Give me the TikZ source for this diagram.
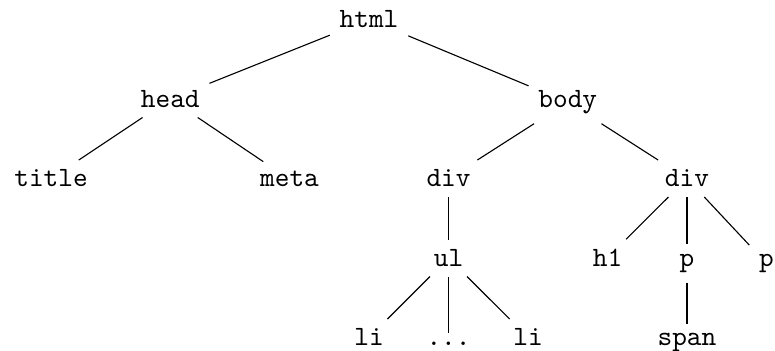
\documentclass[tikz,border=0pt]{standalone}
\begin{document}
\begin{tikzpicture}[every node/.style={font=\ttfamily, anchor=base}]
      \useasboundingbox (-4.642,0.352) rectangle (5.107,-4.063);
      \node (html) at (0,0) {html};
      \node (head) at (-2.5,-1) {head};
      \node (body) at (2.5,-1) {body};
      \node (title) at (-4,-2) {title};
      \node (meta) at (-1,-2) {meta};
      \node (div1) at (1,-2) {div};
      \node (div2) at (4,-2) {div};
      \node (ul) at (1,-3) {ul};
      \node (h1) at (3,-3) {h1};
      \node (p1) at (4,-3) {p};
      \node (p2) at (5,-3) {p};
      \node (li1) at (0,-4) {li};
      \node (dots) at (1,-4) {...};
      \node (li2) at (2,-4) {li};
      \node (span) at (4,-4) {span};
      \draw (html) -- (head);
      \draw (html) -- (body);
      \draw (head) -- (title);
      \draw (head) -- (meta);
      \draw (body) -- (div1);
      \draw (body) -- (div2);
      \draw (div1) -- (ul);
      \draw (ul) -- (li1);
      \draw (ul) -- (dots);
      \draw (ul) -- (li2);
      \draw (div2) -- (h1);
      \draw (div2) -- (p1);
      \draw (div2) -- (p2);
      \draw (p1) -- (span);
    \end{tikzpicture}
\end{document}
